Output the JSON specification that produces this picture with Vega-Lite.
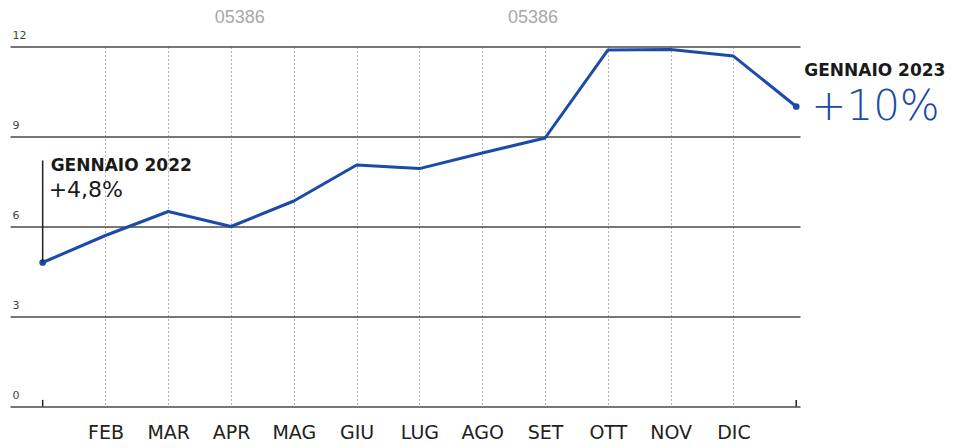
{
  "$schema": "https://vega.github.io/schema/vega-lite/v6.json",
  "width": 790,
  "height": 360,
  "autosize": {"type": "none"},
  "padding": {"left": 10, "top": 46.5, "right": 163, "bottom": 41.5},
  "background": "white",
  "config": {"view": {"stroke": null}, "font": "DejaVu Sans"},
  "datasets": {
    "series": [
      {"m": 0, "v": 4.8},
      {"m": 1, "v": 5.7},
      {"m": 2, "v": 6.5},
      {"m": 3, "v": 6.0},
      {"m": 4, "v": 6.85},
      {"m": 5, "v": 8.05},
      {"m": 6, "v": 7.93},
      {"m": 7, "v": 8.45},
      {"m": 8, "v": 8.95},
      {"m": 9, "v": 11.88},
      {"m": 10, "v": 11.9},
      {"m": 11, "v": 11.68},
      {"m": 12, "v": 10.0}
    ],
    "rules": [
      {"m": 0, "v0": 4.8, "v1": 8.2},
      {"m": 0, "v0": 0, "v1": 0.22},
      {"m": 12, "v0": 0, "v1": 0.22}
    ],
    "watermark": [
      {"m": 3.14, "v": 12.95, "t": "05386"},
      {"m": 7.81, "v": 12.95, "t": "05386"}
    ],
    "heads": [
      {"m": 0, "v": 7.85, "t": "GENNAIO 2022"},
      {"m": 12, "v": 11.02, "t": "GENNAIO 2023"}
    ]
  },
  "layer": [
    {
      "data": {"name": "series"},
      "mark": {"type": "line", "color": "#1c4aa8", "strokeWidth": 3, "strokeJoin": "round"},
      "encoding": {
        "x": {
          "field": "m", "type": "quantitative",
          "scale": {"domain": [-0.52, 12.06], "nice": false, "zero": false},
          "axis": {
            "values": [1, 2, 3, 4, 5, 6, 7, 8, 9, 10, 11],
            "grid": true, "gridDash": [2, 2], "gridColor": "#b5b5b5", "gridWidth": 1,
            "ticks": false, "tickSize": 0, "domain": false,
            "labelExpr": "['GEN','FEB','MAR','APR','MAG','GIU','LUG','AGO','SET','OTT','NOV','DIC','GEN'][datum.value]",
            "labelFontSize": 19, "labelColor": "#222", "labelPadding": 17, "labelBaseline": "top",
            "title": null
          }
        },
        "y": {
          "field": "v", "type": "quantitative",
          "scale": {"domain": [0, 12], "nice": false},
          "axis": {
            "values": [0, 3, 6, 9, 12],
            "grid": true, "gridColor": "#4a4a44", "gridWidth": 1.3,
            "ticks": false, "tickSize": 0, "domain": false,
            "labelAlign": "left", "labelBaseline": "middle", "labelPadding": -2,
            "labelOffset": -11, "labelFontSize": 11, "labelColor": "#444",
            "title": null
          }
        }
      }
    },
    {
      "data": {"name": "series"},
      "transform": [{"filter": "datum.m == 0 || datum.m == 12"}],
      "mark": {"type": "point", "filled": true, "color": "#1c4aa8", "size": 45, "opacity": 1},
      "encoding": {
        "x": {"field": "m", "type": "quantitative"},
        "y": {"field": "v", "type": "quantitative"}
      }
    },
    {
      "data": {"name": "rules"},
      "mark": {"type": "rule", "color": "#222", "strokeWidth": 1.5},
      "encoding": {
        "x": {"field": "m", "type": "quantitative"},
        "y": {"field": "v0", "type": "quantitative"},
        "y2": {"field": "v1"}
      }
    },
    {
      "data": {"name": "watermark"},
      "mark": {"type": "text", "font": "Liberation Sans", "fontSize": 18, "color": "#a8a8a8", "align": "center", "baseline": "middle"},
      "encoding": {
        "x": {"field": "m", "type": "quantitative"},
        "y": {"field": "v", "type": "quantitative"},
        "text": {"field": "t"}
      }
    },
    {
      "data": {"name": "heads"},
      "mark": {"type": "text", "fontSize": 17, "fontWeight": "bold", "color": "#1a1a1a", "align": "left", "baseline": "alphabetic", "dx": 8},
      "encoding": {
        "x": {"field": "m", "type": "quantitative"},
        "y": {"field": "v", "type": "quantitative"},
        "text": {"field": "t"}
      }
    },
    {
      "data": {"values": [{"m": 0, "v": 6.98, "t": "+4,8%"}]},
      "mark": {"type": "text", "fontSize": 22, "color": "#1a1a1a", "align": "left", "baseline": "alphabetic", "dx": 6},
      "encoding": {
        "x": {"field": "m", "type": "quantitative"},
        "y": {"field": "v", "type": "quantitative"},
        "text": {"field": "t"}
      }
    },
    {
      "data": {"values": [{"m": 12, "v": 9.55, "t": "+10%"}]},
      "mark": {"type": "text", "fontSize": 42, "fontWeight": 200, "color": "#1c4aa8", "align": "left", "baseline": "alphabetic", "dx": 15},
      "encoding": {
        "x": {"field": "m", "type": "quantitative"},
        "y": {"field": "v", "type": "quantitative"},
        "text": {"field": "t"}
      }
    }
  ]
}
